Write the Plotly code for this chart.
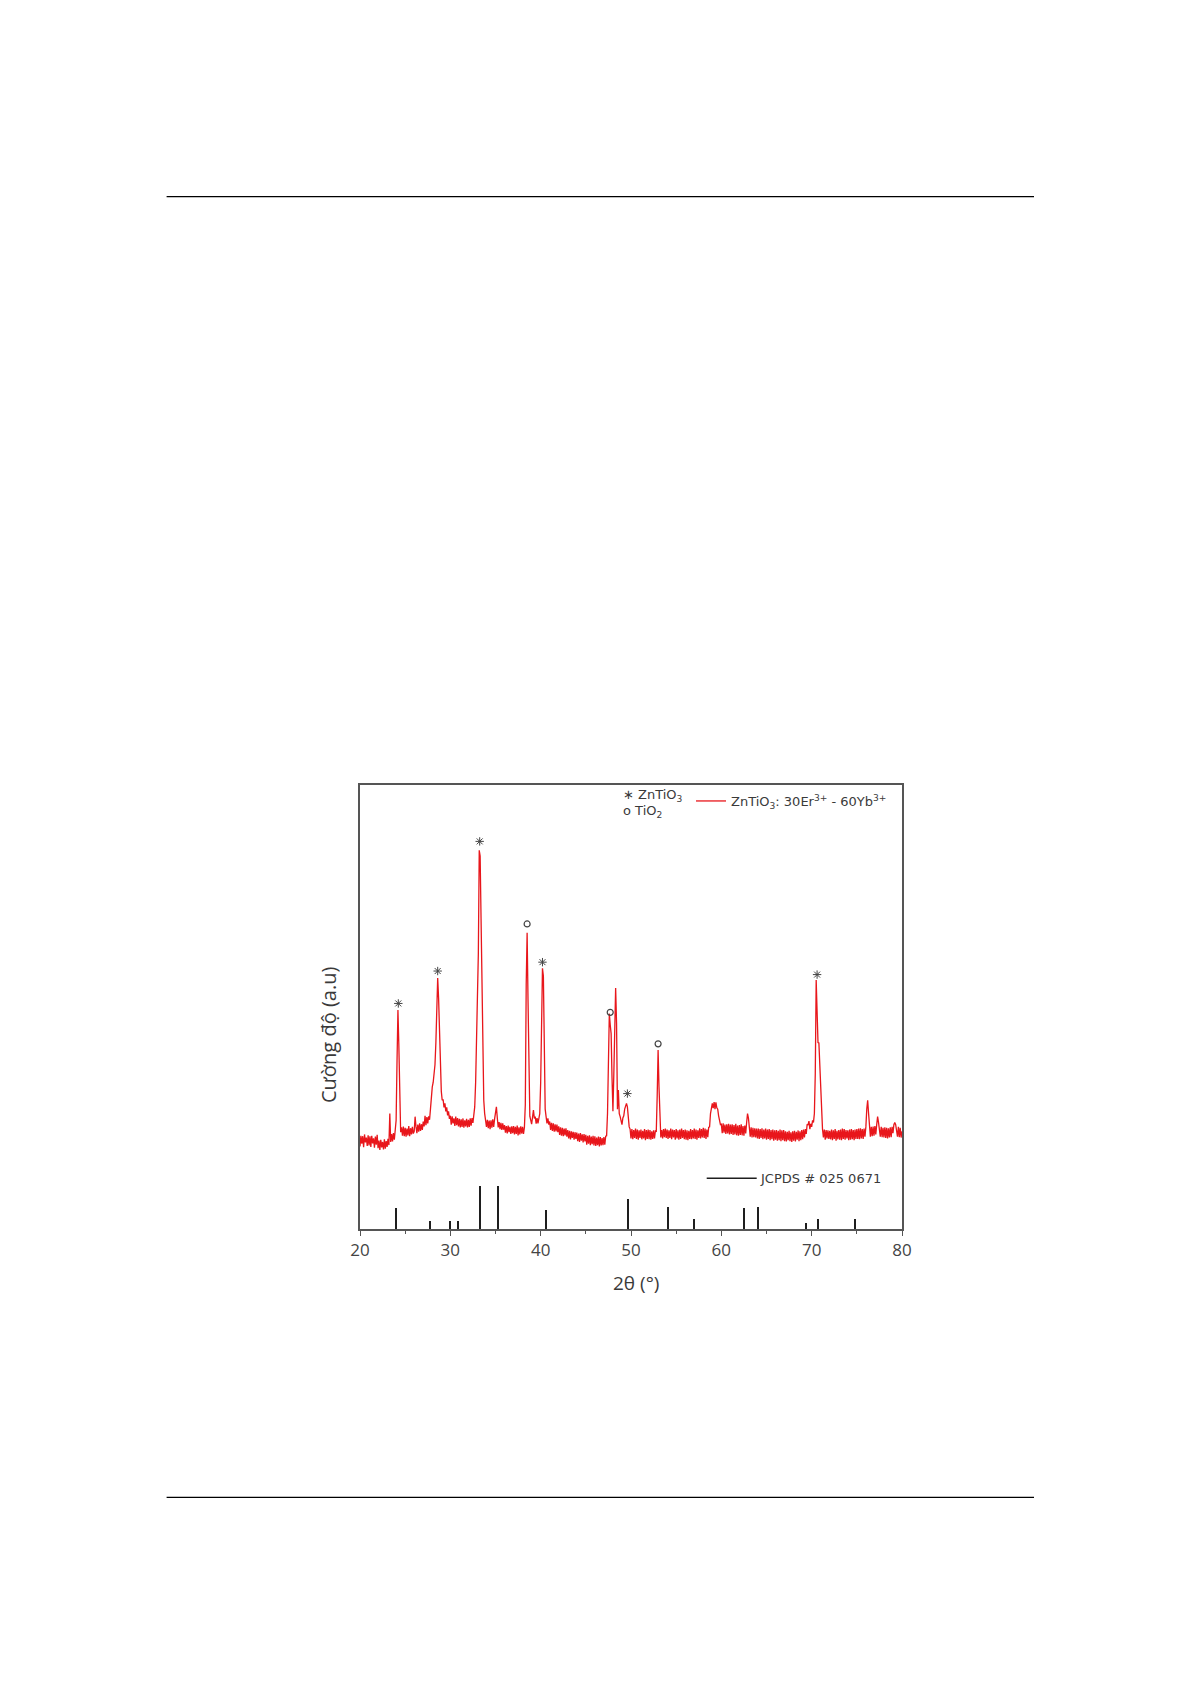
import plotly.graph_objects as go

# ---------------- data ----------------
two_theta_start = 20.0
two_theta_step = 0.1
intensity = [
    18.6, 21.0, 19.2, 20.9, 18.4, 21.3, 19.5, 20.6, 18.7, 21.1,
    18.8, 20.9, 18.5, 21.0, 19.3, 20.4, 18.3, 20.8, 19.0, 21.2,
    18.2, 19.9, 17.8, 20.1, 18.4, 19.6, 17.9, 20.2, 18.1, 19.8,
    18.5, 20.3, 18.9, 26.0, 19.6, 21.4, 19.7, 21.6, 20.1, 22.3,
    24.5, 38.0, 49.3, 41.4, 27.0, 21.8, 22.9, 21.0, 23.1, 20.9,
    22.8, 20.8, 22.6, 21.1, 23.2, 20.9, 22.7, 21.3, 23.0, 21.5,
    22.0, 25.3, 23.0, 21.6, 23.5, 21.9, 23.8, 22.1, 23.6, 22.3,
    24.2, 23.1, 25.5, 23.4, 25.2, 23.8, 25.4, 24.6, 27.0, 30.6,
    32.0, 33.0, 34.5, 37.0, 42.0, 50.0, 56.5, 52.0, 44.8, 36.0,
    31.0, 29.0, 29.2, 27.4, 28.3, 26.5, 27.4, 25.6, 26.5, 24.8,
    25.5, 23.5, 25.4, 23.8, 24.9, 23.2, 25.3, 23.4, 25.0, 23.1,
    24.8, 22.9, 24.7, 23.0, 24.9, 22.8, 24.5, 23.1, 24.8, 22.9,
    24.6, 23.0, 24.9, 23.3, 25.0, 23.9, 25.6, 27.5, 33.0, 43.3,
    50.0, 62.0, 85.3, 84.0, 70.0, 55.0, 52.3, 29.0, 26.0, 24.5,
    23.0, 24.6, 22.7, 24.4, 22.5, 24.5, 22.8, 24.7, 23.0, 24.8,
    26.0, 27.5, 25.0, 22.9, 24.1, 22.5, 23.9, 22.3, 23.8, 22.4,
    23.4, 21.7, 23.2, 21.5, 23.3, 21.8, 23.0, 21.4, 23.1, 21.6,
    23.2, 21.3, 23.0, 21.4, 23.3, 21.1, 22.9, 21.3, 23.1, 21.5,
    23.0, 21.4, 22.9, 28.0, 55.0, 66.7, 51.6, 30.0, 25.4, 24.5,
    23.6, 25.2, 26.8, 24.9, 25.3, 23.7, 25.0, 23.8, 25.4, 26.0,
    33.0, 55.0, 58.7, 57.0, 40.0, 27.0, 25.3, 23.8, 24.9, 23.5,
    24.2, 22.3, 23.9, 22.1, 23.8, 21.9, 23.6, 22.0, 23.5, 21.8,
    23.1, 21.2, 22.9, 21.0, 22.8, 20.9, 22.6, 21.1, 22.7, 20.8,
    22.3, 20.4, 22.1, 20.2, 22.0, 20.5, 21.9, 20.1, 21.8, 20.3,
    21.7, 19.8, 21.5, 19.6, 21.6, 19.9, 21.3, 19.5, 21.4, 19.7,
    21.2, 19.0, 21.0, 19.2, 21.1, 18.9, 20.8, 19.1, 21.0, 18.8,
    20.9, 18.7, 20.6, 18.9, 20.8, 18.6, 20.7, 18.8, 20.5, 18.9,
    20.7, 19.0, 20.9, 21.0, 26.0, 44.0, 48.5, 46.0, 44.0, 34.0,
    26.5, 35.0, 50.0, 54.3, 46.4, 27.0, 31.3, 26.0, 25.3, 24.5,
    23.5, 25.0, 25.5, 27.0, 28.0, 28.3, 27.5, 25.0, 23.0, 22.5,
    20.4, 22.5, 20.2, 22.3, 20.5, 22.6, 20.3, 22.4, 20.1, 22.2,
    20.5, 22.4, 20.2, 22.1, 20.4, 22.5, 20.0, 22.3, 20.3, 22.4,
    20.2, 22.3, 20.1, 22.0, 20.3, 22.2, 20.4, 22.1, 22.0, 30.0,
    40.3, 32.0, 22.5, 20.6, 22.3, 20.4, 22.5, 20.7, 22.6, 20.5,
    22.4, 20.3, 22.2, 20.5, 22.6, 20.2, 22.4, 20.6, 22.3, 20.1,
    22.5, 20.4, 22.2, 20.1, 22.4, 20.3, 22.6, 20.5, 22.3, 20.2,
    22.4, 20.1, 22.2, 20.0, 22.1, 20.3, 22.5, 20.2, 22.3, 20.4,
    22.6, 20.3, 22.4, 20.1, 22.2, 20.5, 22.7, 20.4, 22.5, 20.6,
    22.8, 20.5, 22.6, 20.3, 22.4, 20.7, 22.9, 23.0, 26.0, 27.5,
    28.3, 27.2, 28.6, 27.0, 28.5, 27.3, 27.0, 25.5, 24.0, 23.5,
    23.6, 21.6, 23.8, 21.7, 23.5, 21.4, 23.6, 21.5, 23.7, 21.3,
    23.5, 21.4, 23.6, 21.2, 23.4, 21.3, 23.7, 21.1, 23.3, 21.0,
    23.4, 21.2, 23.6, 21.1, 23.2, 21.0, 23.3, 21.5, 24.0, 26.0,
    25.0, 22.5, 20.8, 22.9, 20.6, 22.8, 20.7, 22.7, 20.6, 22.6,
    20.4, 22.6, 20.3, 22.5, 20.5, 22.7, 20.2, 22.4, 20.4, 22.6,
    20.1, 22.4, 20.3, 22.5, 20.0, 22.3, 20.2, 22.4, 19.9, 22.2,
    20.1, 22.3, 19.9, 22.1, 20.0, 22.4, 19.8, 22.2, 20.0, 22.3,
    19.8, 22.0, 19.7, 21.9, 20.0, 22.1, 19.8, 21.8, 19.6, 22.0,
    19.9, 22.1, 19.7, 21.9, 20.1, 22.2, 19.8, 22.0, 20.0, 22.3,
    20.2, 22.4, 20.6, 22.5, 21.4, 23.6, 23.4, 24.3, 22.5, 23.7,
    23.0, 24.5, 24.0, 26.0, 35.0, 56.1, 50.0, 42.0, 41.9, 37.4,
    30.0, 25.0, 22.5, 20.6, 22.4, 20.1, 22.3, 20.4, 22.2, 20.3,
    22.1, 20.2, 22.4, 20.0, 22.2, 20.3, 22.5, 19.9, 22.1, 20.2,
    22.3, 20.1, 22.4, 20.0, 22.6, 20.3, 22.5, 20.1, 22.3, 20.4,
    22.2, 20.0, 22.4, 20.1, 22.5, 20.2, 22.3, 20.0, 22.4, 20.3,
    22.5, 20.3, 22.6, 20.2, 22.7, 20.4, 22.5, 20.3, 22.6, 20.8,
    23.0, 27.0, 29.0, 26.0, 23.0, 20.8, 23.0, 20.9, 23.1, 21.0,
    23.2, 21.3, 23.5, 25.3, 24.0, 22.5, 20.8, 23.0, 20.7, 22.8,
    20.6, 22.9, 20.5, 22.8, 20.4, 22.7, 20.6, 22.9, 20.7, 23.0,
    21.6, 23.5, 24.0, 23.5, 22.5, 20.8, 23.0, 20.7, 22.8, 20.6,
    22.0,
]
two_theta = [round(two_theta_start + two_theta_step * i, 1) for i in range(len(intensity))]

# JCPDS # 025 0671 reference lines (position, relative intensity)
jcpds_pos = [24.0, 27.8, 30.0, 30.85, 33.34, 35.3, 40.64, 49.7, 54.15, 57.0,
             62.5, 64.1, 69.4, 70.7, 74.8]
jcpds_int = [49, 18, 18, 18, 100, 100, 44, 70, 51, 23, 49, 51, 14, 23, 23]

# phase labels above peaks
znTiO3_x = [24.24, 28.6, 33.25, 40.2, 49.6, 70.6]
znTiO3_y = [50.8, 58.1, 87.3, 60.1, 30.5, 57.3]
tio2_x = [38.5, 47.7, 53.0]
tio2_y = [68.7, 48.8, 41.7]

x_ticks = [20, 30, 40, 50, 60, 70, 80]

# ---------------- figure ----------------
W, H = 1176, 1669
L, R, T, B = 352, 282, 777, 448
PW, PH = W - L - R, H - T - B

def px(fx):
    return (fx - L) / PW

def py(fy):
    return (H - B - fy) / PH

FONT = "Open Sans"
LFONT = "DejaVu Sans"
TXT = "#3a3a3a"
AX = "#555555"
RED = "#e8161b"
MK = "#444444"

fig = go.Figure()

fig.add_trace(go.Bar(
    x=jcpds_pos, y=jcpds_int, width=0.2, yaxis="y2",
    marker=dict(color="#1e1e1e", line=dict(width=0)),
    showlegend=False, hoverinfo="x",
))

fig.add_trace(go.Scatter(
    x=two_theta, y=intensity, mode="lines",
    line=dict(color=RED, width=1.3),
    name="ZnTiO<sub>3</sub>: 30Er<sup>3+</sup> - 60Yb<sup>3+</sup>",
    showlegend=True,
))

fig.add_trace(go.Scatter(
    x=znTiO3_x, y=znTiO3_y, mode="markers",
    marker=dict(symbol="asterisk-open", size=7, color=MK, line=dict(color=MK, width=1)),
    showlegend=False, hoverinfo="skip",
))
fig.add_trace(go.Scatter(
    x=tio2_x, y=tio2_y, mode="markers",
    marker=dict(symbol="circle-open", size=6, color=MK, line=dict(color=MK, width=1.2)),
    showlegend=False, hoverinfo="skip",
))

annotations = [
    dict(x=px(320), y=py(1027), xref="paper", yref="paper", text="Cường độ (a.u)",
         textangle=-90, showarrow=False, font=dict(family=FONT, size=20, color=TXT),
         xanchor="center", yanchor="middle"),
    dict(x=px(628), y=py(1275.4), xref="paper", yref="paper", text="2θ (°)",
         showarrow=False, font=dict(family=FONT, size=19, color=TXT),
         xanchor="center", yanchor="middle"),
    dict(x=px(613), y=py(787), xref="paper", yref="paper",
         text="∗ ZnTiO<sub>3</sub>", showarrow=False, xanchor="left", yanchor="middle",
         font=dict(family=LFONT, size=13, color=TXT)),
    dict(x=px(613), y=py(803), xref="paper", yref="paper",
         text="o TiO<sub>2</sub>", showarrow=False, xanchor="left", yanchor="middle",
         font=dict(family=LFONT, size=13, color=TXT)),
    dict(x=px(750), y=py(1170.3), xref="paper", yref="paper",
         text="JCPDS # 025 0671", showarrow=False, xanchor="left", yanchor="middle",
         font=dict(family=LFONT, size=13, color=TXT)),
]

shapes = [
    dict(type="line", xref="paper", yref="paper", x0=px(698.7), x1=px(748.7),
         y0=py(1170.3), y1=py(1170.3), line=dict(color="#1e1e1e", width=1.6)),
    dict(type="line", xref="paper", yref="paper", x0=px(158.6), x1=px(1026),
         y0=py(188.7), y1=py(188.7), line=dict(color="#000", width=1.3)),
    dict(type="line", xref="paper", yref="paper", x0=px(158.6), x1=px(1026),
         y0=py(1489.4), y1=py(1489.4), line=dict(color="#000", width=1.3)),
]

fig.update_layout(
    width=W, height=H,
    margin=dict(l=L, r=R, t=T, b=B, pad=0),
    paper_bgcolor="white", plot_bgcolor="white",
    font=dict(family=FONT, color=TXT),
    showlegend=True,
    legend=dict(x=px(683), y=py(778), xanchor="left", yanchor="top",
                bgcolor="rgba(0,0,0,0)", borderwidth=0,
                font=dict(family=LFONT, size=13, color=TXT)),
    xaxis=dict(range=[20, 80], tickvals=x_ticks, ticks="outside", ticklen=5,
               tickwidth=1.3, tickcolor=AX, showline=True, linecolor=AX, linewidth=1.5,
               mirror=True, showgrid=False, zeroline=False,
               tickfont=dict(family=FONT, size=17, color="#444"),
               minor=dict(dtick=5, tick0=25, ticks="outside", ticklen=3, tickcolor=AX)),
    yaxis=dict(range=[0, 100], showticklabels=False, ticks="", showline=True,
               linecolor=AX, linewidth=1.5, mirror=True, showgrid=False, zeroline=False),
    yaxis2=dict(range=[0, 1032], overlaying="y", visible=False),
    bargap=0,
    annotations=annotations,
    shapes=shapes,
)

fig.write_html("out.html")
